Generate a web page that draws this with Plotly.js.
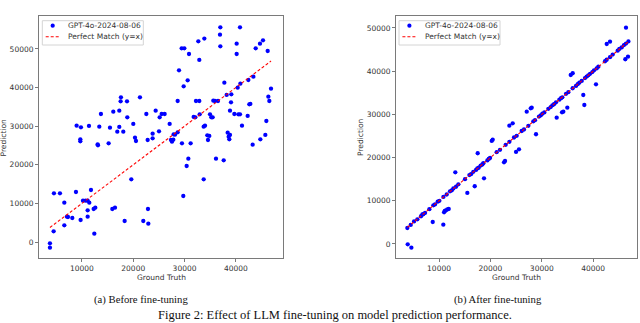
<!DOCTYPE html>
<html>
<head>
<meta charset="utf-8">
<script src="https://cdn.plot.ly/plotly-3.0.1.min.js"></script>
<style>html,body{margin:0;padding:0;background:#fff;}#chart{width:640px;height:323px;}</style>
</head>
<body>
<div id="chart"></div>
<script>
// ---- Data: (a) Before fine-tuning ----
const gtBefore = [8960,9800,9680,9680,11370,13060,13120,13380,13700,15200,15460,16110,17280,17280,16890,17540,17600,18780,18840,18060,
  20010,20340,20530,21310,22550,22810,23780,23780,24370,25020,25150,25540,26120,27100,27360,27550,27810,27880,28140,28660,
  28660,28920,29440,29960,29830,30610,30870,29500,31190,31780,32100,32230,32880,32690,32880,32950,33730,33990,33860,34440,
  34830,34570,34960,35220,35480,35610,35940,36520,36980,36910,36980,37760,38210,38410,38600,38730,38860,39060,39120,38860,
  39710,40160,40160,40360,40810,40880,40490,40810,41200,42310,42630,42830,42440,43280,43410,43870,44710,45300,45750,44780,
  45950,46210,46340,46530,46860,
  3760,3760,4480,4540,5710,6560,6560,7080,7270,8120,8830,9740,10200,10720,11110,11110,11110,11430,11760,12280,
  12600,12410,15920,16440,18320,19620,21960,22870,22940,29760,30410,30740,33730,36130,37630];
const predBefore = [30130,29700,26590,26080,30050,25300,25040,29870,33150,25560,29620,33760,34020,29790,28580,36440,37470,36440,32290,28580,
  30570,27030,26160,37470,33150,26420,26850,28060,34020,28670,32290,33150,33150,30570,26420,25990,26510,27890,27800,28410,
  36520,44470,50160,50160,40320,41870,48690,25560,25560,32380,32290,36520,36520,51980,47140,33070,29870,30130,52670,27630,
  27460,26420,33070,32290,32290,36610,36520,36520,55600,53700,50680,41270,38080,28320,27280,26590,27720,36180,38250,34020,
  33150,51370,48690,39970,55600,41010,33070,33070,30130,32640,35660,35750,41960,25210,42820,50160,51370,52230,27720,26590,
  31340,49470,37640,36520,39720,
  -350,-1470,2760,12600,12600,10190,4320,6560,6470,6220,12950,5700,10710,10710,10710,8200,6560,10190,13470,8550,
  8890,2160,8550,8890,5440,16230,5440,8550,4750,11910,19680,21580,16230,21580,21150];

// ---- Data: (b) After fine-tuning ----
const gtAfter = [46390,42640,43280,46260,46780,35630,36020,40550,38080,38280,34970,34190,33940,32900,27850,27070,28040,24340,23690,28880,
  3910,4620,8780,10840,11110,11360,11620,11890,10980,13170,15510,16950,18760,17530,20260,20450,22650,22850,24990,25570,
  3840,4490,5140,5790,6500,6760,6950,7280,8120,8900,9220,9740,10070,10850,11500,12140,12470,12790,13310,13770,
  15060,15910,16230,16680,17200,17460,17720,18110,18440,18630,19410,19670,19930,21220,21870,22980,23700,24600,25120,26090,
  26540,27390,28360,28680,29460,29790,30110,30500,31280,31730,32060,32380,32770,33420,33740,34000,34720,35170,36010,36660,
  36990,37310,37770,38410,38740,39060,39390,39840,40170,40680,41010,42310,42630,43280,43800,44770,45100,45550,46000,46390,46860];
const predAfter = [50080,46300,46830,42760,43360,39120,39520,36970,34490,32180,31550,30630,30490,29240,31410,30630,31550,27940,27390,25400,
  -70,-850,5090,4470,7640,7800,8030,8100,7340,16590,11810,13360,15210,21000,23850,24150,18910,19210,21300,21920,
  3700,4420,5230,5700,6420,6850,6900,7200,8050,8950,9150,9800,10000,10900,11450,12200,12400,12850,13250,13800,
  15000,15950,16150,16700,17150,17500,17650,18150,18400,18700,19350,19700,19900,21250,21800,22950,23650,24650,25050,26150,
  26500,27350,28400,28650,29500,29750,30150,30450,31300,31700,32100,32350,32800,33400,33750,33950,34750,35150,36050,36600,
  37000,37350,37750,38400,38750,39050,39400,39800,40200,40650,41050,42300,42650,43250,43850,44750,45150,45500,46050,46400,46900];

const tickVals = [0,10000,20000,30000,40000,50000];
const seriesName = "GPT-4o-2024-08-06";
const lineName = "Perfect Match (y=x)";
const captionA = "(a) Before fine-tuning";
const captionB = "(b) After fine-tuning";
const figCaption = "Figure 2: Effect of LLM fine-tuning on model prediction performance.";

function span(a){ return [Math.min(...a), Math.max(...a)]; }
const lineA = span(gtBefore), lineB = span(gtAfter);

const W = 640, H = 323;
const px = v => v / W;           // pixel -> paper x
const py = v => 1 - v / H;       // pixel -> paper y

const tickFont = {family:"DejaVu Sans", size:7.5, color:"#333"};
const markerStyle = {color:"#0000ff", size:4.3};
const lineStyle = {color:"#ff0000", width:1.1, dash:"3px,2px"};

const traces = [
  {x:gtBefore, y:predBefore, type:"scatter", mode:"markers", name:seriesName, marker:markerStyle, xaxis:"x", yaxis:"y"},
  {x:lineA, y:lineA, type:"scatter", mode:"lines", name:lineName, line:lineStyle, xaxis:"x", yaxis:"y"},
  {x:gtAfter, y:predAfter, type:"scatter", mode:"markers", name:seriesName, marker:markerStyle, xaxis:"x2", yaxis:"y2"},
  {x:lineB, y:lineB, type:"scatter", mode:"lines", name:lineName, line:lineStyle, xaxis:"x2", yaxis:"y2"}
];

const axBase = {showgrid:false, zeroline:false, showline:true, mirror:true, linecolor:"#7a7a7a", linewidth:1,
  ticks:"outside", ticklen:3, tickcolor:"#7a7a7a", tickfont:tickFont, tickformat:"d", fixedrange:true};

function ann(text, x, y, opts){ return Object.assign({text, x, y, xref:"paper", yref:"paper", showarrow:false,
  font:{family:"DejaVu Sans", size:7.5, color:"#333"}}, opts||{}); }

// legend boxes (drawn as shapes + text), left edge in pixels
function legendParts(left){
  const shapes = [
    {type:"rect", xref:"paper", yref:"paper", x0:px(left), x1:px(left+101), y0:py(45), y1:py(20.7),
     line:{color:"#d4d4d4", width:1}, fillcolor:"rgba(255,255,255,0.85)", layer:"above"},
    {type:"circle", xref:"paper", yref:"paper", x0:px(left+10.4-2.1), x1:px(left+10.4+2.1), y0:py(25.7+2.1), y1:py(25.7-2.1),
     line:{width:0}, fillcolor:"#0000ff", layer:"above"},
    {type:"line", xref:"paper", yref:"paper", x0:px(left+3.4), x1:px(left+17.7), y0:py(36.7), y1:py(36.7),
     line:{color:"#ff0000", width:1.1, dash:"3px,2px"}, layer:"above"}
  ];
  const anns = [
    ann(seriesName, px(left+23.5), py(25.7), {xanchor:"left", yanchor:"middle"}),
    ann(lineName, px(left+23.5), py(36.7), {xanchor:"left", yanchor:"middle"})
  ];
  return {shapes, anns};
}
const legL = legendParts(42.3), legR = legendParts(399);

const layout = {
  width:W, height:H, margin:{l:0,r:0,t:0,b:0}, paper_bgcolor:"#fff", plot_bgcolor:"#fff",
  showlegend:false,
  xaxis:Object.assign({}, axBase, {domain:[0.0609,0.4427], range:[1620,49260], tickvals:tickVals.slice(1,5), anchor:"y"}),
  yaxis:Object.assign({}, axBase, {domain:[0.2003,0.9505], range:[-4220,58530], tickvals:tickVals, anchor:"x"}),
  xaxis2:Object.assign({}, axBase, {domain:[0.6188,0.9953], range:[1635,48530], tickvals:tickVals.slice(1,5), anchor:"y2"}),
  yaxis2:Object.assign({}, axBase, {domain:[0.1997,0.9505], range:[-3360,52780], tickvals:tickVals, anchor:"x2"}),
  shapes:[...legL.shapes, ...legR.shapes],
  annotations:[
    ...legL.anns, ...legR.anns,
    ann("Ground Truth", 0.2516, 0.1424, {xanchor:"center", yanchor:"middle"}),
    ann("Ground Truth", 0.8078, 0.1424, {xanchor:"center", yanchor:"middle"}),
    ann("Prediction", 0.007, 0.5759, {xanchor:"center", yanchor:"middle", textangle:-90}),
    ann("Prediction", 0.564, 0.5759, {xanchor:"center", yanchor:"middle", textangle:-90}),
    ann(captionA, 0.2203, 0.0743, {xanchor:"center", yanchor:"middle", font:{family:"Liberation Serif", size:10.7, color:"#111"}}),
    ann(captionB, 0.7777, 0.0743, {xanchor:"center", yanchor:"middle", font:{family:"Liberation Serif", size:10.7, color:"#111"}}),
    ann(figCaption, 0.5234, 0.0, {xanchor:"center", yanchor:"bottom", borderpad:0, font:{family:"Liberation Serif", size:12.5, color:"#111"}})
  ]
};

Plotly.newPlot("chart", traces, layout, {staticPlot:true, displayModeBar:false});
</script>
</body>
</html>
